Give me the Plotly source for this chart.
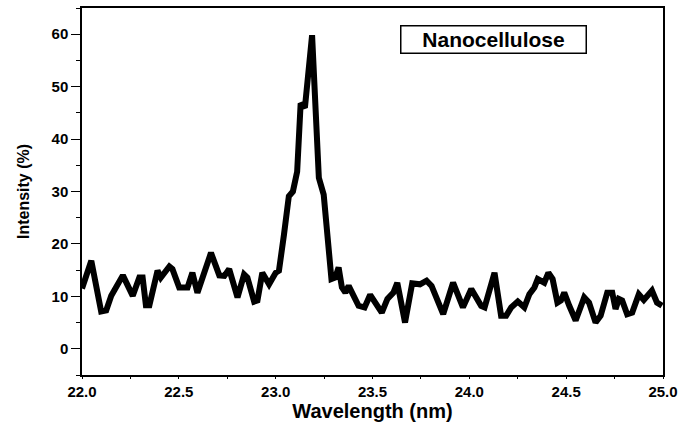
import plotly.graph_objects as go

wavelength = [22.000, 22.048, 22.099, 22.125, 22.151, 22.211, 22.262, 22.296, 22.313, 22.330,
              22.348, 22.390, 22.407, 22.451, 22.467, 22.502, 22.545, 22.570, 22.596, 22.666,
              22.709, 22.735, 22.760, 22.803, 22.837, 22.854, 22.889, 22.906, 22.931, 22.966,
              23.000, 23.017, 23.043, 23.068, 23.089, 23.111, 23.129, 23.151, 23.188, 23.223,
              23.248, 23.288, 23.308, 23.325, 23.342, 23.360, 23.377, 23.402, 23.428, 23.459,
              23.488, 23.548, 23.577, 23.608, 23.628, 23.668, 23.705, 23.745, 23.779, 23.805,
              23.839, 23.865, 23.916, 23.967, 24.010, 24.061, 24.079, 24.105, 24.130, 24.164,
              24.190, 24.216, 24.250, 24.284, 24.310, 24.336, 24.353, 24.387, 24.408, 24.430,
              24.455, 24.473, 24.490, 24.516, 24.549, 24.593, 24.618, 24.652, 24.678, 24.712,
              24.738, 24.755, 24.772, 24.789, 24.815, 24.841, 24.875, 24.901, 24.943, 24.969,
              24.995]
intensity = [11.5, 16.8, 7.1, 7.3, 10.1, 14.0, 10.1, 13.6, 13.6, 8.3,
             8.3, 14.9, 13.6, 15.7, 15.2, 11.7, 11.7, 14.5, 10.7, 18.3,
             14.0, 13.9, 15.2, 9.8, 14.2, 13.6, 9.0, 9.2, 14.5, 12.3,
             14.5, 14.9, 21.8, 29.1, 30.0, 33.8, 46.8, 46.0, 59.8, 32.6,
             29.4, 13.3, 13.6, 15.5, 11.7, 10.7, 12.0, 10.1, 8.2, 7.9,
             10.3, 6.9, 9.5, 10.7, 12.6, 5.0, 12.5, 12.3, 13.0, 12.0,
             8.5, 6.6, 12.6, 7.9, 11.4, 8.2, 7.9, 11.1, 14.5, 6.3,
             6.3, 7.9, 9.0, 7.9, 10.4, 11.7, 13.3, 12.6, 14.5, 13.3,
             8.8, 9.2, 10.7, 8.2, 5.4, 9.8, 8.8, 5.0, 6.3, 10.7,
             10.7, 7.6, 9.5, 9.2, 6.6, 6.9, 10.4, 9.3, 11.1, 8.8,
             8.2]

label_text = "Nanocellulose"
x_title = "Wavelength (nm)"
y_title = "Intensity (%)"

FONT = "Liberation Sans, Arial, sans-serif"

fig = go.Figure()
fig.add_trace(go.Scatter(
    x=wavelength, y=intensity, mode="lines",
    line=dict(color="black", width=6, shape="linear"),
    showlegend=False, hoverinfo="skip",
))

fig.update_layout(
    width=684, height=432,
    margin=dict(l=82, r=17, t=6, b=57),
    paper_bgcolor="white", plot_bgcolor="white",
    font=dict(family=FONT, color="black"),
    annotations=[dict(
        text="<b>" + label_text + "</b>",
        xref="paper", yref="paper", x=0.708, y=0.913,
        xanchor="center", yanchor="middle",
        showarrow=False, font=dict(family=FONT, size=21, color="black"),
        bordercolor="black", borderwidth=1.5, borderpad=2,
        width=180, height=22, bgcolor="white",
    )],
)

fig.update_xaxes(
    range=[22, 25], dtick=0.5, tick0=22, tickformat=".1f",
    showgrid=False, zeroline=False,
    showline=True, linecolor="black", linewidth=1.5, mirror=True,
    ticks="outside", ticklen=2, tickwidth=1, tickcolor="black",
    minor=dict(dtick=0.25, ticks="outside", ticklen=2, tickcolor="black"),
    tickfont=dict(family=FONT, size=15, color="black", weight="bold"),
    title=dict(text="<b>" + x_title + "</b>", font=dict(family=FONT, size=20, color="black"), standoff=4),
)
fig.update_yaxes(
    range=[-5, 65], dtick=10, tick0=0,
    showgrid=False, zeroline=False,
    showline=True, linecolor="black", linewidth=1.5, mirror=True,
    ticks="outside", ticklen=9, tickwidth=1, tickcolor="black",
    minor=dict(dtick=5, ticks="outside", ticklen=4, tickcolor="black"),
    tickfont=dict(family=FONT, size=15, color="black", weight="bold"),
    title=dict(text="<b>" + y_title + "</b>", font=dict(family=FONT, size=16, color="black"), standoff=18),
)

fig.write_html("out.html", config={"displayModeBar": False},
               post_script="document.body.style.margin='0';")
